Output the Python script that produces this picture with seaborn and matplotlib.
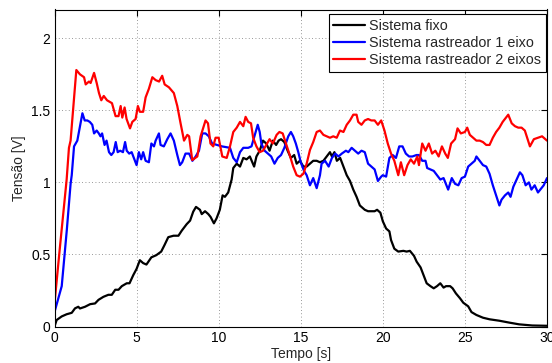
import matplotlib
matplotlib.use("Agg")
import matplotlib.pyplot as plt
import seaborn as sns
import pandas as pd
import numpy as np

# ---------------- data ----------------
t_fixo = [0.0, 0.03, 0.13, 0.44, 0.74, 1.05, 1.25, 1.45, 1.55, 1.86, 2.17, 2.47, 2.68, 2.98, 3.28, 3.49,
          3.7, 3.9, 4.1, 4.4, 4.57, 4.8, 5.0, 5.2, 5.4, 5.6, 5.9, 6.2, 6.5, 6.7, 6.93, 7.25, 7.55, 7.75,
          8.05, 8.26, 8.45, 8.62, 8.86, 8.97, 9.17, 9.37, 9.51, 9.71, 9.87, 10.07, 10.24, 10.38, 10.58,
          10.79, 10.89, 11.1, 11.3, 11.5, 11.7, 11.9, 12.16, 12.3, 12.5, 12.7, 12.9, 13.1, 13.3, 13.5,
          13.65, 13.8, 14.0, 14.2, 14.4, 14.6, 14.75, 14.95, 15.16, 15.36, 15.56, 15.76, 15.97, 16.17,
          16.38, 16.58, 16.78, 16.9, 17.05, 17.2, 17.4, 17.6, 17.8, 18.0, 18.2, 18.4, 18.6, 18.9, 19.1,
          19.3, 19.5, 19.65, 19.85, 20.0, 20.2, 20.4, 20.5, 20.7, 20.94, 21.25, 21.45, 21.65, 21.9,
          22.06, 22.3, 22.5, 22.67, 22.9, 23.1, 23.3, 23.5, 23.7, 23.85, 24.1, 24.25, 24.45, 24.7,
          24.9, 25.2, 25.4, 25.7, 26.1, 26.5, 27.1, 27.7, 28.3, 29.1, 30.0]
v_fixo = [0.0, 0.01, 0.045, 0.07, 0.085, 0.095, 0.126, 0.137, 0.125, 0.137, 0.155, 0.16, 0.185, 0.206,
          0.22, 0.22, 0.255, 0.255, 0.28, 0.30, 0.30, 0.357, 0.40, 0.46, 0.44, 0.43, 0.48, 0.495, 0.52,
          0.565, 0.62, 0.63, 0.63, 0.665, 0.71, 0.735, 0.797, 0.83, 0.81, 0.78, 0.80, 0.78, 0.76, 0.716,
          0.75, 0.81, 0.91, 0.90, 0.93, 1.02, 1.10, 1.13, 1.11, 1.17, 1.16, 1.18, 1.11, 1.18, 1.22, 1.29,
          1.27, 1.22, 1.29, 1.26, 1.29, 1.30, 1.28, 1.22, 1.17, 1.19, 1.13, 1.15, 1.11, 1.11, 1.13, 1.15,
          1.15, 1.14, 1.15, 1.18, 1.21, 1.18, 1.21, 1.15, 1.17, 1.11, 1.05, 1.01, 0.95, 0.90, 0.84, 0.81,
          0.80, 0.80, 0.80, 0.81, 0.79, 0.73, 0.68, 0.66, 0.60, 0.54, 0.52, 0.525, 0.52, 0.525, 0.49,
          0.45, 0.41, 0.35, 0.30, 0.28, 0.265, 0.28, 0.30, 0.27, 0.28, 0.28, 0.265, 0.23, 0.196, 0.165,
          0.14, 0.10, 0.08, 0.061, 0.05, 0.04, 0.027, 0.015, 0.007, 0.005]

t_1eixo = [0.0, 0.44, 0.75, 0.98, 1.05, 1.19, 1.39, 1.55, 1.70, 1.84, 2.0, 2.15, 2.3, 2.41, 2.57, 2.7,
           2.8, 2.9, 3.05, 3.17, 3.32, 3.46, 3.6, 3.73, 3.85, 4.0, 4.17, 4.3, 4.4, 4.55, 4.7, 4.8, 5.0,
           5.14, 5.28, 5.4, 5.55, 5.75, 5.9, 6.06, 6.16, 6.36, 6.46, 6.66, 6.87, 7.07, 7.27, 7.48, 7.64,
           7.78, 7.98, 8.2, 8.4, 8.6, 8.8, 9.0, 9.2, 9.4, 9.6, 9.9, 10.2, 10.69, 10.89, 11.1, 11.3, 11.5,
           11.8, 12.0, 12.2, 12.38, 12.5, 12.6, 12.8, 13.0, 13.2, 13.4, 13.6, 13.8, 14.0, 14.24, 14.4,
           14.54, 14.7, 14.85, 15.0, 15.2, 15.36, 15.56, 15.76, 15.97, 16.17, 16.27, 16.48, 16.7, 16.9,
           17.1, 17.3, 17.5, 17.75, 17.9, 18.1, 18.3, 18.5, 18.7, 18.9, 19.1, 19.3, 19.5, 19.7, 19.9,
           20.0, 20.2, 20.4, 20.6, 20.8, 21.0, 21.2, 21.4, 21.6, 21.8, 22.05, 22.2, 22.4, 22.6, 22.7,
           22.9, 23.1, 23.3, 23.5, 23.7, 23.98, 24.2, 24.4, 24.6, 24.8, 25.0, 25.2, 25.4, 25.6, 25.7,
           25.9, 26.1, 26.3, 26.5, 26.7, 26.93, 27.1, 27.23, 27.44, 27.64, 27.78, 27.95, 28.15, 28.35,
           28.5, 28.7, 28.9, 29.05, 29.25, 29.45, 29.66, 29.8, 30.0]
v_1eixo = [0.10, 0.28, 0.67, 0.99, 1.05, 1.25, 1.29, 1.39, 1.48, 1.43, 1.43, 1.42, 1.40, 1.34, 1.36, 1.34,
           1.32, 1.34, 1.26, 1.29, 1.21, 1.19, 1.21, 1.28, 1.21, 1.22, 1.21, 1.28, 1.22, 1.20, 1.21, 1.18,
           1.12, 1.21, 1.16, 1.21, 1.15, 1.14, 1.27, 1.25, 1.29, 1.34, 1.26, 1.25, 1.30, 1.34, 1.29, 1.19,
           1.12, 1.14, 1.20, 1.20, 1.15, 1.18, 1.22, 1.34, 1.34, 1.32, 1.27, 1.26, 1.25, 1.24, 1.17, 1.14,
           1.21, 1.24, 1.24, 1.25, 1.33, 1.40, 1.35, 1.27, 1.22, 1.20, 1.18, 1.13, 1.17, 1.19, 1.24, 1.32,
           1.35, 1.32, 1.27, 1.21, 1.14, 1.08, 1.05, 0.98, 1.03, 0.96, 1.05, 1.13, 1.15, 1.11, 1.17, 1.20,
           1.18, 1.20, 1.22, 1.21, 1.24, 1.22, 1.20, 1.22, 1.21, 1.13, 1.11, 1.09, 1.01, 1.04, 1.05, 1.04,
           1.17, 1.19, 1.17, 1.25, 1.25, 1.20, 1.18, 1.18, 1.19, 1.19, 1.15, 1.15, 1.10, 1.09, 1.08, 1.05,
           1.02, 1.03, 0.95, 1.03, 0.99, 0.98, 1.03, 1.04, 1.11, 1.13, 1.15, 1.18, 1.15, 1.12, 1.11, 1.06,
           0.98, 0.90, 0.84, 0.88, 0.91, 0.93, 0.90, 0.97, 1.02, 1.07, 1.05, 0.98, 1.00, 0.95, 0.98, 0.93,
           0.96, 0.98, 1.03]

t_2eixos = [0.0, 0.33, 0.74, 0.88, 0.98, 1.33, 1.55, 1.80, 1.90, 2.1, 2.2, 2.41, 2.57, 2.71, 2.85, 3.0,
            3.2, 3.5, 3.72, 3.9, 4.03, 4.13, 4.27, 4.39, 4.6, 4.74, 4.94, 5.08, 5.2, 5.4, 5.55, 5.75, 5.96,
            6.16, 6.37, 6.56, 6.71, 6.97, 7.27, 7.48, 7.68, 7.89, 8.09, 8.2, 8.39, 8.7, 8.9, 9.2, 9.35,
            9.5, 9.67, 9.81, 10.0, 10.22, 10.49, 10.69, 10.89, 11.1, 11.3, 11.5, 11.64, 11.8, 11.97, 12.1,
            12.3, 12.5, 12.7, 12.9, 13.1, 13.3, 13.53, 13.7, 13.9, 14.1, 14.3, 14.54, 14.75, 14.95, 15.16,
            15.36, 15.56, 15.76, 15.97, 16.17, 16.38, 16.58, 16.78, 16.98, 17.19, 17.39, 17.6, 17.8, 18.0,
            18.2, 18.4, 18.5, 18.7, 18.9, 19.1, 19.3, 19.5, 19.7, 19.9, 20.1, 20.3, 20.5, 20.7, 20.94,
            21.1, 21.3, 21.5, 21.7, 21.9, 22.1, 22.2, 22.4, 22.6, 22.8, 23.0, 23.2, 23.4, 23.6, 23.8,
            23.96, 24.16, 24.4, 24.55, 24.75, 25.0, 25.14, 25.3, 25.5, 25.7, 25.9, 26.1, 26.3, 26.5,
            26.7, 26.9, 27.1, 27.3, 27.5, 27.64, 27.85, 28.05, 28.25, 28.45, 28.65, 28.85, 28.96, 29.2,
            29.45, 29.7, 30.0]
v_2eixos = [0.16, 0.55, 1.02, 1.24, 1.29, 1.78, 1.75, 1.73, 1.68, 1.70, 1.69, 1.76, 1.69, 1.62, 1.57, 1.60,
            1.57, 1.55, 1.46, 1.46, 1.53, 1.45, 1.52, 1.44, 1.375, 1.42, 1.44, 1.53, 1.49, 1.49, 1.59, 1.65,
            1.73, 1.71, 1.70, 1.74, 1.68, 1.66, 1.62, 1.53, 1.41, 1.29, 1.33, 1.32, 1.155, 1.18, 1.32, 1.43,
            1.41, 1.27, 1.25, 1.31, 1.31, 1.18, 1.17, 1.25, 1.35, 1.38, 1.42, 1.39, 1.455, 1.42, 1.41, 1.31,
            1.25, 1.21, 1.22, 1.26, 1.30, 1.27, 1.33, 1.35, 1.34, 1.27, 1.20, 1.11, 1.05, 1.04, 1.06, 1.13,
            1.225, 1.28, 1.35, 1.36, 1.33, 1.32, 1.31, 1.32, 1.31, 1.36, 1.35, 1.40, 1.43, 1.47, 1.47, 1.42,
            1.40, 1.43, 1.44, 1.43, 1.43, 1.40, 1.43, 1.36, 1.27, 1.20, 1.15, 1.05, 1.14, 1.05, 1.12, 1.16,
            1.13, 1.18, 1.12, 1.27, 1.22, 1.27, 1.20, 1.22, 1.18, 1.25, 1.20, 1.17, 1.27, 1.30, 1.375, 1.34,
            1.35, 1.38, 1.33, 1.31, 1.29, 1.29, 1.28, 1.26, 1.26, 1.31, 1.35, 1.38, 1.42, 1.45, 1.47, 1.41,
            1.39, 1.38, 1.38, 1.36, 1.29, 1.25, 1.30, 1.31, 1.32, 1.29]

series_names = ["Sistema fixo", "Sistema rastreador 1 eixo", "Sistema rastreador 2 eixos"]
series_colors = ["#000000", "#0000ff", "#ff0000"]
x_ticks = [0, 5, 10, 15, 20, 25, 30]
y_ticks = [0, 0.5, 1, 1.5, 2]
y_tick_labels = ["0", "0.5", "1", "1.5", "2"]

# ---------------- plot ----------------
sns.set_style("white")
plt.rcParams['font.family'] = ['Liberation Sans', 'DejaVu Sans']

frames = []
for name, t, v in zip(series_names, [t_fixo, t_1eixo, t_2eixos], [v_fixo, v_1eixo, v_2eixos]):
    frames.append(pd.DataFrame({"Tempo": t, "Tensao": v, "Serie": name}))
df = pd.concat(frames, ignore_index=True)

fig = plt.figure(figsize=(5.52, 3.63), dpi=100)
ax = fig.add_axes([54.5 / 552, (363 - 326.5) / 363, (547 - 54.5) / 552, (326.5 - 9.5) / 363])

sns.lineplot(data=df, x="Tempo", y="Tensao", hue="Serie", hue_order=series_names,
             palette=series_colors, linewidth=1.6, sort=False, estimator=None, ax=ax)

ax.set_xlim(0, 30)
ax.set_ylim(0, 2.2)
ax.set_xticks(x_ticks)
ax.set_xticklabels([str(x) for x in x_ticks])
ax.set_yticks(y_ticks)
ax.set_yticklabels(y_tick_labels)
ax.grid(True, linestyle=(0, (1, 3)), color="#777777", linewidth=0.6)
ax.tick_params(direction="in", length=4, width=0.8, top=True, right=True, labelsize=10,
               colors="black", pad=3)
for s in ax.spines.values():
    s.set_color("black")
    s.set_linewidth(0.8)
ax.set_xlabel("Tempo [s]", fontsize=10, labelpad=2)
ax.set_ylabel("Tensão [V]", fontsize=10, labelpad=4)

leg = ax.legend(loc="upper right", bbox_to_anchor=(0.998, 0.986), borderaxespad=0,
                fontsize=10.4, frameon=True, fancybox=False, framealpha=1, edgecolor="black",
                handlelength=2.2, handletextpad=0.3, labelspacing=0.22, borderpad=0.32)
leg.get_frame().set_linewidth(0.8)

fig.savefig("out.png", dpi=100)
